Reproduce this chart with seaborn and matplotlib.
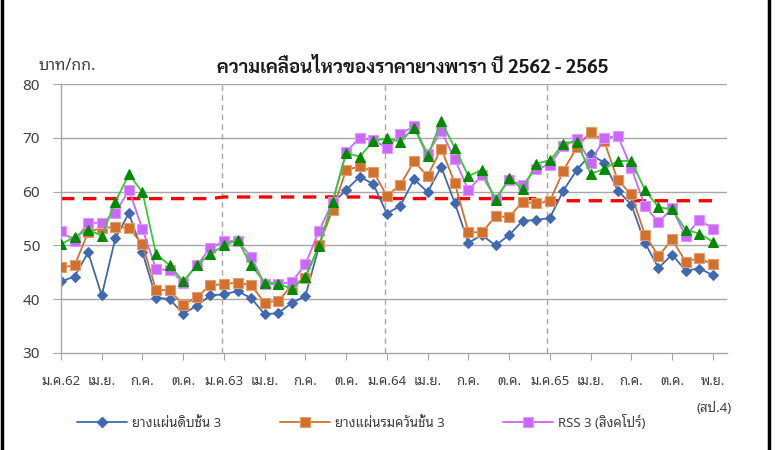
import matplotlib
matplotlib.use("Agg")
import matplotlib.pyplot as plt
import seaborn as sns
import numpy as np
import pandas as pd
from matplotlib import font_manager
from matplotlib.lines import Line2D

# ---------------- data ----------------
tick_labels = ["ม.ค.62", "เม.ย.", "ก.ค.", "ต.ค.", "ม.ค.63", "เม.ย.", "ก.ค.", "ต.ค.",
               "ม.ค.64", "เม.ย.", "ก.ค.", "ต.ค.", "ม.ค.65", "เม.ย.", "ก.ค.", "ต.ค.", "พ.ย."]

raw_sheet = [43.3, 44.2, 48.7, 40.7, 51.3, 56.0, 48.7, 40.3, 40.0, 37.3, 38.8, 40.7,
             40.9, 41.5, 40.2, 37.2, 37.4, 39.3, 40.6, 49.8, 57.8, 60.3, 62.8, 61.4,
             55.9, 57.4, 62.3, 59.9, 64.6, 57.9, 50.5, 51.9, 50.0, 51.9, 54.6, 54.7,
             55.1, 60.2, 64.1, 66.9, 65.4, 60.2, 57.6, 50.5, 45.8, 48.3, 45.3, 45.7, 44.5]

smoked_sheet = [45.9, 46.3, 52.4, 53.3, 53.4, 53.3, 50.2, 41.7, 41.7, 38.9, 40.4, 42.6,
                42.8, 43.1, 42.6, 39.3, 39.7, 42.5, 44.0, 50.0, 56.6, 64.0, 64.7, 63.7,
                59.2, 61.3, 65.6, 62.9, 68.0, 61.6, 52.5, 52.4, 55.4, 55.3, 58.1, 57.8,
                58.2, 63.9, 68.3, 71.1, 69.4, 62.1, 59.5, 52.0, 48.0, 51.1, 47.0, 47.6, 46.5]

rss3_sgp = [52.7, 50.8, 54.2, 54.2, 56.0, 60.3, 53.0, 45.6, 45.4, 43.1, 46.3, 49.5,
            50.8, 50.8, 47.9, 42.8, 42.8, 43.2, 46.5, 52.7, 58.0, 67.4, 70.0, 69.6,
            68.1, 70.7, 72.2, 67.0, 71.3, 66.0, 60.3, 63.0, 58.7, 62.1, 61.3, 64.2,
            65.0, 68.5, 69.8, 65.4, 69.9, 70.4, 64.4, 57.3, 54.3, 56.9, 51.7, 54.8, 53.1]

series4 = [50.2, 51.6, 52.9, 51.8, 58.1, 63.2, 59.9, 48.4, 46.3, 43.3, 46.3, 48.4,
           50.0, 51.0, 46.3, 43.1, 42.9, 41.9, 44.2, 49.9, 58.1, 67.2, 66.5, 69.4,
           69.9, 69.3, 71.9, 66.6, 73.1, 68.1, 62.9, 64.0, 58.4, 62.5, 60.4, 65.2,
           65.8, 68.9, 69.3, 63.3, 64.2, 65.7, 65.7, 60.3, 57.1, 56.7, 52.9, 52.2, 50.7]

year_avg = [58.7] * 12 + [59.0] * 12 + [58.7] * 12 + [58.3] * 13

names = ["ยางแผ่นดิบชั้น 3", "ยางแผ่นรมควันชั้น 3", "RSS 3 (สิงคโปร์)"]

# ---------------- fonts ----------------
entries = font_manager.fontManager.ttflist
available = {fe.name for fe in entries}
preferred = ["Noto Sans Thai Looped", "Noto Sans Thai", "Sarabun", "IBM Plex Sans Thai"]
chosen = [f for f in preferred if f in available][:1]


def has_bold(name):
    for fe in entries:
        if fe.name == name:
            w = fe.weight
            if isinstance(w, str):
                if w in ("bold", "heavy", "black", "semibold", "demibold", "extra bold"):
                    return True
            elif w >= 600:
                return True
    return False


bold_pref = [f for f in preferred if f in available and has_bold(f)][:1]
title_family = (bold_pref or chosen) + ["DejaVu Sans"]

sns.set_style("white")
plt.rcParams["font.family"] = chosen + ["DejaVu Sans"]

fig = plt.figure(figsize=(7.79, 4.5), dpi=100)
ax = fig.add_axes([0.0783, 0.2156, 0.8550, 0.5977])

x = np.arange(len(raw_sheet))
df = pd.DataFrame({"x": x, "raw": raw_sheet, "smoked": smoked_sheet,
                   "rss": rss3_sgp, "s4": series4, "avg": year_avg})

for v in [40, 50, 60, 70, 80]:
    ax.axhline(v, color="#a6a6a6", lw=1.0, zorder=0)
for v in [11.88, 23.86, 35.82]:
    ax.axvline(v, color="#a6a6a6", lw=1.0, ls=(0, (4, 3)), zorder=0)

sns.lineplot(data=df, x="x", y="avg", ax=ax, color="#ff0000", lw=2.4,
             dashes=False, zorder=1).lines[-1].set_dashes([4, 2.6])

sns.lineplot(data=df, x="x", y="raw", ax=ax, color="#4169b0", lw=1.3,
             marker="D", markersize=5, markeredgecolor="#4169b0",
             markerfacecolor="#4169b0", zorder=2)
sns.lineplot(data=df, x="x", y="smoked", ax=ax, color="#d2702d", lw=1.3,
             marker="s", markersize=7, markeredgecolor="#e89a6a",
             markerfacecolor="#d2702d", markeredgewidth=0.8, zorder=3)
sns.lineplot(data=df, x="x", y="rss", ax=ax, color="#cc66ff", lw=1.3,
             marker="s", markersize=7, markeredgecolor="#dd99ff",
             markerfacecolor="#cc66ff", markeredgewidth=0.8, zorder=4)
sns.lineplot(data=df, x="x", y="s4", ax=ax, color="#33cc33", lw=1.3,
             marker="^", markersize=7, markeredgecolor="#008a00",
             markerfacecolor="#008a00", zorder=5)

ax.set_xlim(0, 49.05)
ax.set_ylim(30, 80)
ax.set_yticks([30, 40, 50, 60, 70, 80])
ax.set_xticks(np.arange(0, 49, 3))
ax.set_xticklabels(tick_labels)
ax.set_xlabel("")
ax.set_ylabel("")
for s in ["top", "right"]:
    ax.spines[s].set_visible(False)
for s in ["left", "bottom"]:
    ax.spines[s].set_color("#a6a6a6")
    ax.spines[s].set_linewidth(1.0)
ax.tick_params(axis="y", length=6, color="#a6a6a6", labelsize=11,
               labelcolor="#404040", pad=9, left=True)
ax.tick_params(axis="x", length=5, color="#a6a6a6", labelsize=9.5,
               labelcolor="#404040", pad=11, bottom=True)

fig.text(0.53, 0.85, "ความเคลื่อนไหวของราคายางพารา ปี 2562 - 2565",
         ha="center", va="center", fontsize=13.5, fontweight="bold", color="#1a1a1a",
         family=title_family)
fig.text(0.049, 0.853, "บาท/กก.", ha="left", va="center", fontsize=11.5, color="#404040")
fig.text(0.917, 0.093, "(สป.4)", ha="center", va="center", fontsize=9.5, color="#404040")

handles = [
    Line2D([], [], color="#4169b0", lw=1.3, marker="D", markersize=5),
    Line2D([], [], color="#d2702d", lw=1.3, marker="s", markersize=7,
           markeredgecolor="#e89a6a", markeredgewidth=0.8),
    Line2D([], [], color="#cc66ff", lw=1.3, marker="s", markersize=7,
           markeredgecolor="#dd99ff", markeredgewidth=0.8),
]
fig.legend(handles, names, loc="center", bbox_to_anchor=(0.464, 0.062), ncol=3,
           frameon=False, fontsize=9.5, handlelength=3.8, handletextpad=0.4,
           columnspacing=4.4, labelcolor="#404040")

fig.add_artist(Line2D([0.002, 0.002], [0, 1], transform=fig.transFigure, color="black", lw=2.5))
fig.add_artist(Line2D([0.987, 0.987], [0, 1], transform=fig.transFigure, color="black", lw=2.5))

fig.savefig("out.png", dpi=100)
